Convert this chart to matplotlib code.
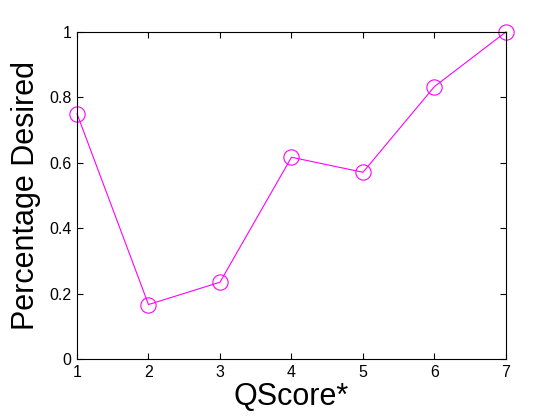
import matplotlib
matplotlib.use("Agg")
import matplotlib.pyplot as plt

# QScore vs percentage desired
qscore = [1, 2, 3, 4, 5, 6, 7]
pct_desired = [0.75, 0.1667, 0.235, 0.617, 0.571, 0.833, 1.0]

plt.rcParams['font.family'] = ['Liberation Sans', 'DejaVu Sans']

fig = plt.figure(figsize=(5.6, 4.2), dpi=100)
ax = fig.add_axes([0.1375, 0.145, 0.766, 0.779])

ax.plot(qscore, pct_desired, color='#ff00ff', linewidth=0.8, marker='o',
        markersize=11, markerfacecolor='none', markeredgecolor='#ff00ff',
        markeredgewidth=0.8, clip_on=False)

ax.set_xlim(1, 7)
ax.set_ylim(0, 1)
ax.set_xticks(qscore)
ax.set_yticks([0, 0.2, 0.4, 0.6, 0.8, 1])
ax.set_yticklabels(['0', '0.2', '0.4', '0.6', '0.8', '1'])
ax.tick_params(direction='in', top=True, right=True, length=4, width=0.8,
               labelsize=11.5, pad=4)
for s in ax.spines.values():
    s.set_linewidth(0.8)

ax.set_xlabel('QScore*', fontsize=22, labelpad=2)
ax.set_ylabel('Percentage Desired', fontsize=22, labelpad=6)

fig.savefig('out.png', dpi=100)
